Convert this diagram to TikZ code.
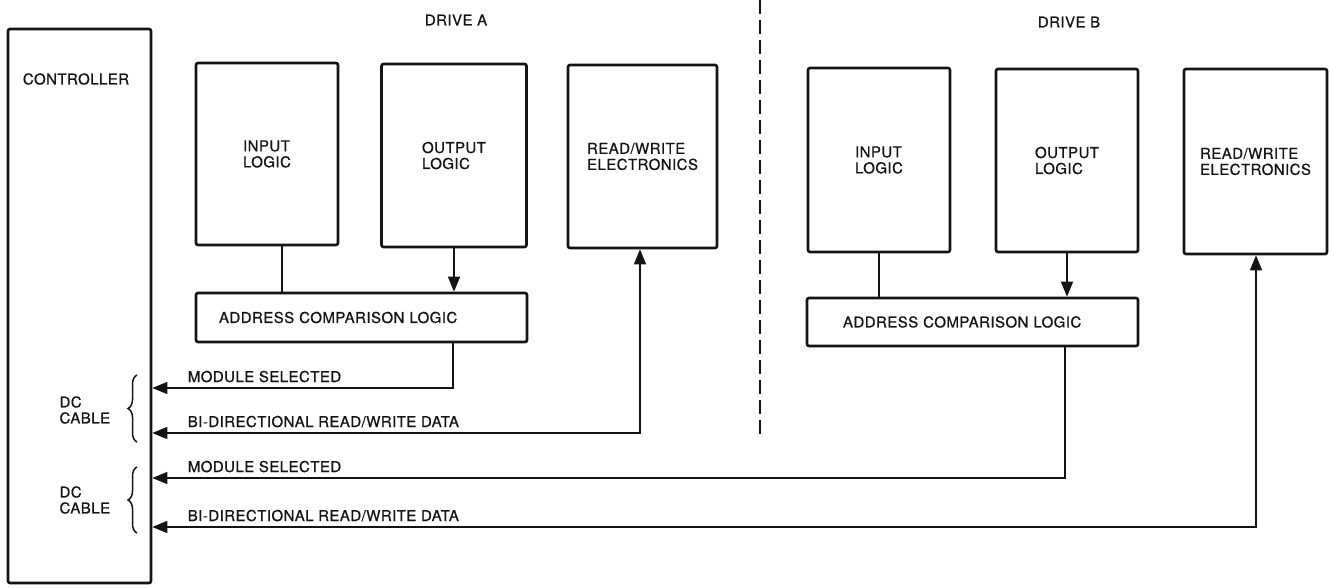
\documentclass[tikz,border=0pt]{standalone}
\usepackage{fontspec}
\setmainfont{TeX Gyre Heros}[LetterSpace=3.0, FakeBold=0.7]
\usepackage{tikz}
\usetikzlibrary{arrows.meta, positioning, calc, decorations.pathreplacing}
\definecolor{ink}{HTML}{141414}

\tikzset{
  unitbox/.style={draw=ink, line width=2.6pt, rounded corners=2pt, align=left, inner sep=0pt},
  wire/.style={draw=ink, line width=1.3pt},
  tip/.style={-{Triangle[length=15pt,width=12pt]}},
  twotip/.style={{Triangle[length=15pt,width=12pt]}-{Triangle[length=15pt,width=12pt]}},
  cablebrace/.style={draw=ink, line width=1.5pt, decorate, decoration={brace, amplitude=9pt}},
}

\begin{document}
\begin{tikzpicture}[x=1pt, y=-1pt, font=\fontsize{15}{16}\selectfont, text=ink]
    \useasboundingbox (0,0) rectangle (1329,588);

    \node[unitbox, minimum width=143pt, minimum height=554pt] (ctrl) at (79.5,306) {};
    \node (ctrllbl) at (76,79) {CONTROLLER};
    \node[anchor=west, align=left] (dcA) at (56,410) {DC\\CABLE};
    \node[anchor=west, align=left] (dcB) at (56,500) {DC\\CABLE};
    \draw[cablebrace] (137,442) -- (137,375);
    \draw[cablebrace] (137,533) -- (137,467);

    \node (driveA) at (456,20) {DRIVE A};
    \node[unitbox, minimum width=142pt, minimum height=182pt] (inA) at (267,154) {INPUT\\LOGIC};
    \node[unitbox, minimum width=145pt, minimum height=183pt] (outA) at (454,155.5) {OUTPUT\\LOGIC};
    \node[unitbox, minimum width=149pt, minimum height=183pt] (rwA) at (642.5,156.5) {READ/WRITE\\ELECTRONICS};
    \node[unitbox, minimum height=49pt, text width=285pt, inner xsep=23pt] (aclA) at (361.5,317.5) {ADDRESS COMPARISON LOGIC};

    \node (driveB) at (1069,22) {DRIVE B};
    \node[unitbox, minimum width=142pt, minimum height=184pt] (inB) at (879,160) {INPUT\\LOGIC};
    \node[unitbox, minimum width=142pt, minimum height=183pt] (outB) at (1067,160.5) {OUTPUT\\LOGIC};
    \node[unitbox, minimum width=143pt, minimum height=185pt] (rwB) at (1255.5,161.5) {READ/WRITE\\ELECTRONICS};
    \node[unitbox, minimum height=48pt, text width=259pt, inner xsep=36pt] (aclB) at (972.5,322) {ADDRESS COMPARISON LOGIC};

    \coordinate (divtop) at (760,0);
    \coordinate (divbot) at (760,438);
    \draw[draw=ink, line width=1.6pt, dash pattern=on 14pt off 6pt] (divtop) -- (divbot);

    \coordinate (msA) at (453,388);
    \coordinate (bdA) at (640,433);
    \coordinate (msB) at (1065,478);
    \coordinate (bdB) at (1256,527);

    \draw[wire] ([xshift=15pt]inA.south) -- ([xshift=15pt]inA.south |- aclA.north);
    \draw[wire, tip] (outA.south) -- (outA.south |- aclA.north);
    \draw[wire, tip] (aclA.south -| msA) |- (ctrl.east |- msA);
    \draw[wire, twotip] (ctrl.east |- bdA) -| (rwA.south -| bdA);
    \node[anchor=base west] (msAlbl) at ($(ctrl.east |- msA)+(32,-6)$) {MODULE SELECTED};
    \node[anchor=base west] (bdAlbl) at ($(ctrl.east |- bdA)+(32,-6)$) {BI-DIRECTIONAL READ/WRITE DATA};

    \draw[wire] (inB.south) -- (inB.south |- aclB.north);
    \draw[wire, tip] (outB.south) -- (outB.south |- aclB.north);
    \draw[wire, tip] (aclB.south -| msB) |- (ctrl.east |- msB);
    \draw[wire, twotip] (ctrl.east |- bdB) -| (rwB.south -| bdB);
    \node[anchor=base west] (msBlbl) at ($(ctrl.east |- msB)+(32,-6)$) {MODULE SELECTED};
    \node[anchor=base west] (bdBlbl) at ($(ctrl.east |- bdB)+(32,-6)$) {BI-DIRECTIONAL READ/WRITE DATA};
\end{tikzpicture}
\end{document}
